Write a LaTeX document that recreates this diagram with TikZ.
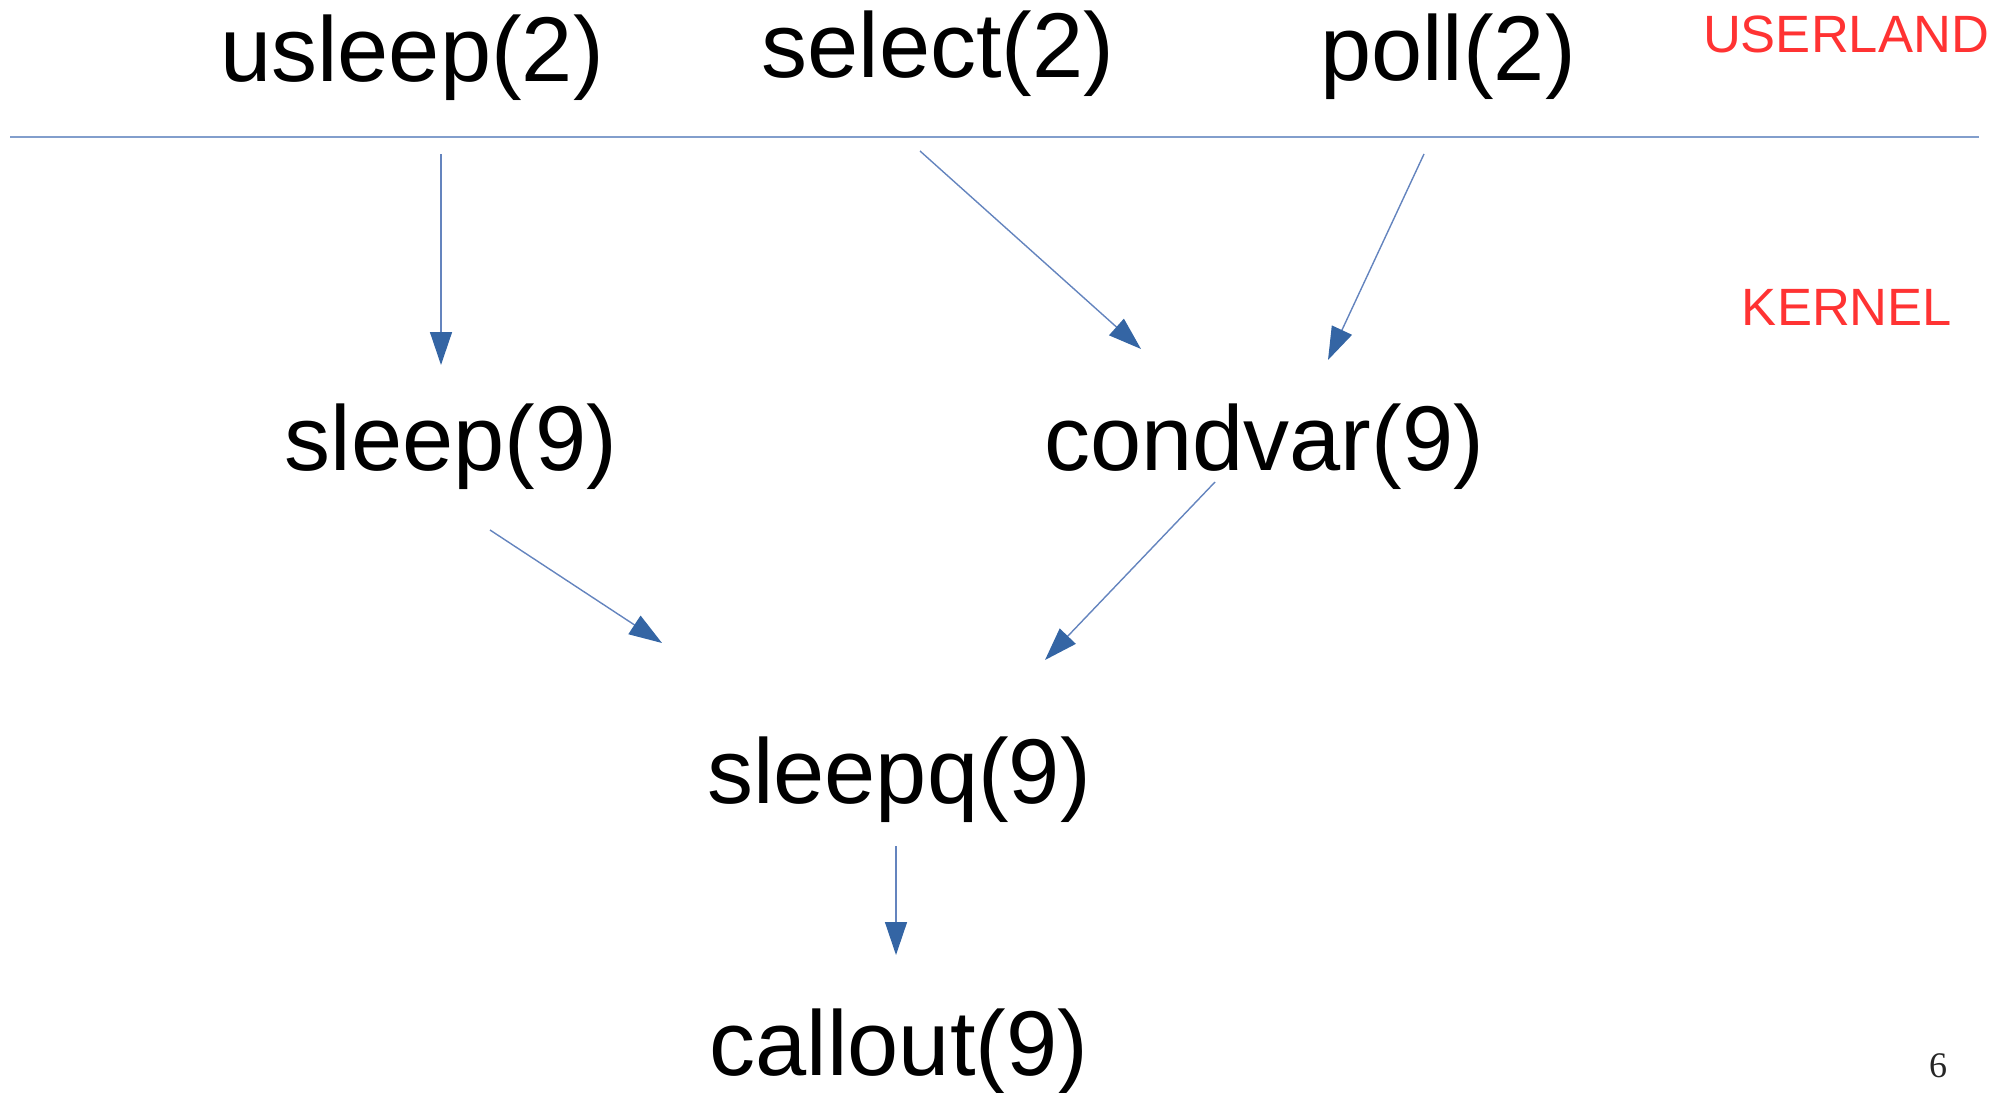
\documentclass[tikz,border=0pt]{standalone}
\usepackage{fontspec}
\setmainfont{Liberation Sans}
\newfontfamily\pgserif{Liberation Serif}
\usetikzlibrary{arrows.meta,calc}
\definecolor{lineblue}{HTML}{3465A4}
\definecolor{shaftblue}{RGB}{100,132,190}
\definecolor{rulecol}{RGB}{130,158,204}
\definecolor{labred}{HTML}{FF3333}
\tikzset{
  fn/.style={anchor=base,inner sep=0pt,font=\fontsize{92}{100}\selectfont},
  zone/.style={anchor=base,inner sep=0pt,text=labred,font=\fontsize{52.5}{60}\selectfont},
  arr/.style={draw=shaftblue,line width=1.4pt,-{Triangle[length=33pt,width=22pt,fill=lineblue,color=lineblue]}},
  divider/.style={draw=rulecol,line width=2pt}
}
\begin{document}
\begin{tikzpicture}[x=1pt,y=-1pt]
\useasboundingbox (0,0) rectangle (2010,1092);
% labels
\node[fn] (usleep) at (412,81) {usleep(2)};
\node[fn] (select) at (938,77) {select(2)};
\node[fn] (poll) at (1448,80) {poll(2)};
\node[fn] (sleep) at (451,470) {sleep(9)};
\node[fn] (condvar) at (1264,470) {condvar(9)};
\node[fn] (sleepq) at (899,803) {sleepq(9)};
\node[fn] (callout) at (899,1075) {callout(9)};
\node[zone] (userland) at (1846,52) {USERLAND};
\node[zone] (kernel) at (1847,325) {KERNEL};
\node[anchor=base,inner sep=0pt,font=\pgserif\fontsize{36}{40}\selectfont,text=black!85] (pagenum) at (1938,1077) {6};
% divider
\coordinate (divL) at (10,137);
\coordinate (divR) at (1979,137);
\draw[divider] (divL) -- (divR);
% connectors
\draw[arr] ($(usleep.base)+(29,73)$) -- ($(sleep.base)+(-10,-105)$);
\draw[arr] ($(select.base)+(-18,74)$) -- ($(condvar.base)+(-123,-121)$);
\draw[arr] ($(poll.base)+(-24,74)$) -- ($(condvar.base)+(64,-110)$);
\draw[arr] ($(sleep.base)+(39,60)$) -- ($(sleepq.base)+(-237,-160)$);
\draw[arr] ($(condvar.base)+(-49,12)$) -- ($(sleepq.base)+(146,-143)$);
\draw[arr] ($(sleepq.base)+(-3,43)$) -- ($(callout.base)+(-3,-120)$);
\end{tikzpicture}
\end{document}
